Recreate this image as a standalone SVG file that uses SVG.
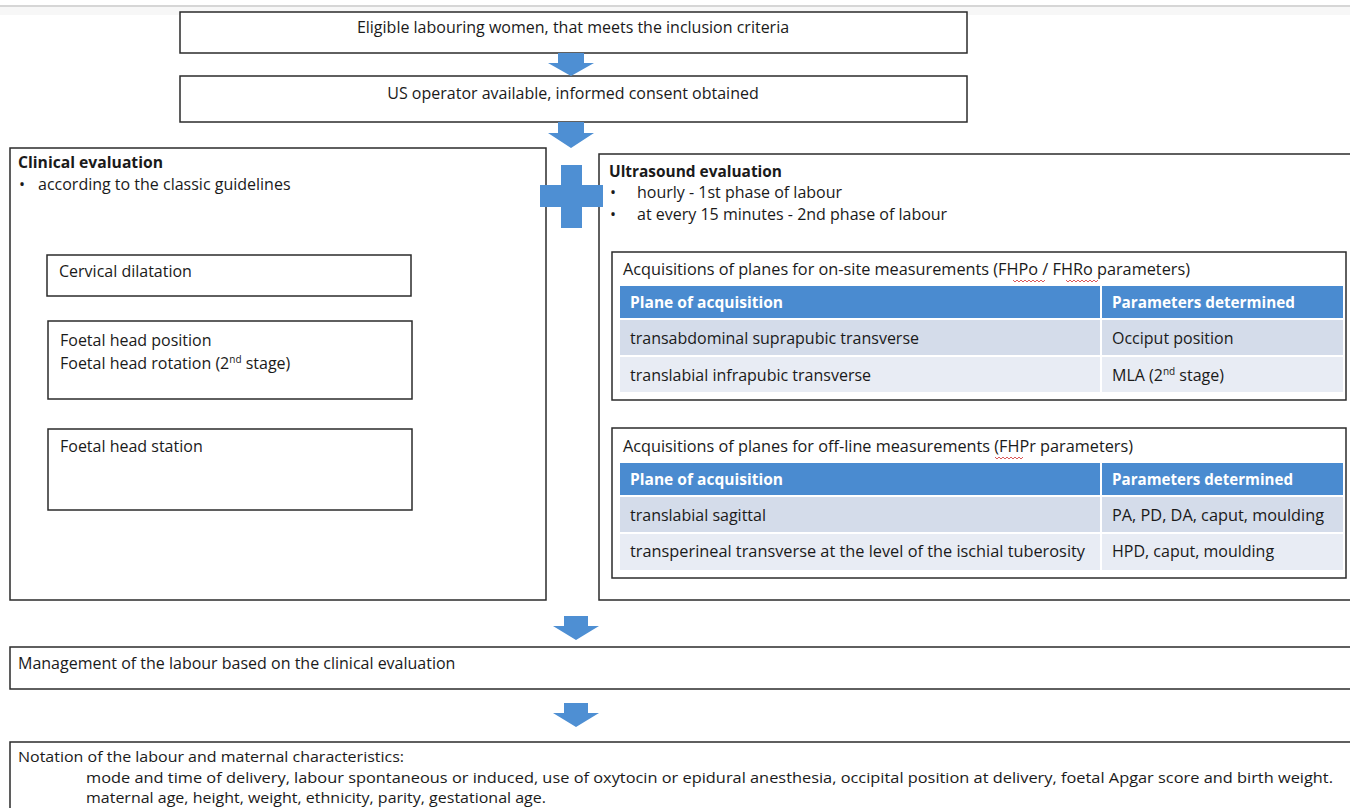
<svg xmlns="http://www.w3.org/2000/svg" width="1350" height="808" viewBox="0 0 1350 808">
<defs>
<style>
.box{fill:#ffffff;stroke:#2b2b2b;stroke-width:1.5}
.t{font-family:"Open Sans","Liberation Sans",sans-serif;font-size:16px;fill:#1a1a1a}
.s{font-size:14.5px}
.b{font-weight:bold}
.h{font-family:"Open Sans","Liberation Sans",sans-serif;font-size:15.5px;font-weight:bold;fill:#ffffff}
.arrow{fill:#4e8fd3}
.hdr{fill:#4a8bd0}
.r1{fill:#d4dcea}
.r2{fill:#e8ecf4}
.sq{fill:none;stroke:#d03030;stroke-width:0.8}
</style>
</defs>
<rect x="0" y="0" width="1350" height="808" fill="#ffffff"/>
<line x1="0" y1="6" x2="1350" y2="6" stroke="#c8c8c8" stroke-width="1.5"/>
<rect x="0" y="7" width="1350" height="8" fill="#f7f7f7"/>

<g id="n-eligible">
<rect class="box" x="180" y="12" width="787" height="41"/>
<text class="t" x="573" y="33" text-anchor="middle">Eligible labouring women, that meets the inclusion criteria</text>
</g>

<g id="n-consent">
<rect class="box" x="180" y="76" width="787" height="46"/>
<text class="t" x="573" y="99" text-anchor="middle">US operator available, informed consent obtained</text>
</g>

<g id="n-clinical">
<rect class="box" x="10" y="148" width="536" height="452"/>
<text class="t b" x="18" y="168" textLength="145" lengthAdjust="spacingAndGlyphs">Clinical evaluation</text>
<text class="t" x="19" y="190">•</text>
<text class="t" x="38" y="190">according to the classic guidelines</text>
</g>

<g id="n-cervical">
<rect class="box" x="47" y="255" width="364" height="41"/>
<text class="t" x="59" y="277">Cervical dilatation</text>
</g>

<g id="n-position">
<rect class="box" x="48" y="321" width="364" height="78"/>
<text class="t" x="60" y="346">Foetal head position</text>
<text class="t" x="60" y="369">Foetal head rotation (2<tspan font-size="10" dy="-6">nd</tspan><tspan dy="6"> stage)</tspan></text>
</g>

<g id="n-station">
<rect class="box" x="48" y="429" width="364" height="81"/>
<text class="t" x="60" y="452">Foetal head station</text>
</g>

<g id="n-ultrasound">
<rect class="box" x="599" y="154" width="760" height="446"/>
<text class="t b" x="609" y="177" textLength="173" lengthAdjust="spacingAndGlyphs">Ultrasound evaluation</text>
<text class="t" x="610" y="198">•</text>
<text class="t" x="637" y="198">hourly  - 1st phase of labour</text>
<text class="t" x="610" y="220">•</text>
<text class="t" x="637" y="220">at every 15 minutes  - 2nd phase of labour</text>
</g>

<g id="n-onsite">
<rect class="box" x="612" y="252" width="734" height="148"/>
<text class="t" x="623" y="275" textLength="567" lengthAdjust="spacingAndGlyphs">Acquisitions of planes for on-site measurements (FHPo / FHRo parameters)</text>
<path class="sq" d="M1013,280 l2,2 l2,-2 l2,2 l2,-2 l2,2 l2,-2 l2,2 l2,-2 l2,2 l2,-2 l2,2 l2,-2 l2,2 l2,-2 l2,2 l2,-2"/>
<path class="sq" d="M1066,280 l2,2 l2,-2 l2,2 l2,-2 l2,2 l2,-2 l2,2 l2,-2 l2,2 l2,-2 l2,2 l2,-2 l2,2 l2,-2 l2,2 l2,-2"/>
<rect class="hdr" x="620" y="286" width="723" height="32"/>
<line x1="1101" y1="286" x2="1101" y2="392" stroke="#ffffff" stroke-width="2"/>
<text class="h" x="630" y="308" textLength="153" lengthAdjust="spacingAndGlyphs">Plane of acquisition</text>
<text class="h" x="1112" y="308" textLength="183" lengthAdjust="spacingAndGlyphs">Parameters determined</text>
<rect class="r1" x="620" y="320" width="480" height="35"/>
<rect class="r1" x="1102" y="320" width="241" height="35"/>
<rect class="r2" x="620" y="357" width="480" height="35"/>
<rect class="r2" x="1102" y="357" width="241" height="35"/>
<text class="t" x="630" y="344">transabdominal suprapubic transverse</text>
<text class="t" x="1112" y="344">Occiput position</text>
<text class="t" x="630" y="381">translabial infrapubic transverse</text>
<text class="t" x="1112" y="381">MLA (2<tspan font-size="10" dy="-6">nd</tspan><tspan dy="6"> stage)</tspan></text>
</g>

<g id="n-offline">
<rect class="box" x="612" y="428" width="734" height="150"/>
<text class="t" x="623" y="452" textLength="510" lengthAdjust="spacingAndGlyphs">Acquisitions of planes for off-line measurements (FHPr parameters)</text>
<path class="sq" d="M995,457 l2,2 l2,-2 l2,2 l2,-2 l2,2 l2,-2 l2,2 l2,-2 l2,2 l2,-2 l2,2 l2,-2 l2,2 l2,-2"/>
<rect class="hdr" x="620" y="463" width="723" height="32"/>
<line x1="1101" y1="463" x2="1101" y2="570" stroke="#ffffff" stroke-width="2"/>
<text class="h" x="630" y="485" textLength="153" lengthAdjust="spacingAndGlyphs">Plane of acquisition</text>
<text class="h" x="1112" y="485" textLength="181" lengthAdjust="spacingAndGlyphs">Parameters determined</text>
<rect class="r1" x="620" y="497" width="480" height="35"/>
<rect class="r1" x="1102" y="497" width="241" height="35"/>
<rect class="r2" x="620" y="534" width="480" height="36"/>
<rect class="r2" x="1102" y="534" width="241" height="36"/>
<text class="t" x="630" y="521">translabial sagittal</text>
<text class="t" x="1112" y="521" textLength="212" lengthAdjust="spacingAndGlyphs">PA, PD, DA, caput, moulding</text>
<text class="t" x="630" y="557" textLength="455" lengthAdjust="spacingAndGlyphs">transperineal transverse at the level of the ischial tuberosity</text>
<text class="t" x="1112" y="557">HPD, caput, moulding</text>
</g>

<g id="n-management">
<rect class="box" x="10" y="647" width="1350" height="42"/>
<text class="t" x="18" y="669">Management of the labour based on the clinical evaluation</text>
</g>

<g id="n-notation">
<rect class="box" x="10" y="742" width="1350" height="80"/>
<text class="t s" x="18" y="762" textLength="386" lengthAdjust="spacingAndGlyphs">Notation of the labour and maternal characteristics:</text>
<text class="t s" x="86" y="783" textLength="1247" lengthAdjust="spacingAndGlyphs">mode and time of delivery, labour spontaneous or induced, use of oxytocin or epidural anesthesia, occipital position at delivery, foetal Apgar score and birth weight.</text>
<text class="t s" x="86" y="803" textLength="460" lengthAdjust="spacingAndGlyphs">maternal age, height, weight, ethnicity, parity, gestational age.</text>
</g>

<g id="connectors">
<polygon class="arrow" points="558,53 584,53 584,63 594,63 571,76 548,63 558,63"/>
<polygon class="arrow" points="558,122 584,122 584,133 594,133 571,148 548,133 558,133"/>
<polygon class="arrow" points="561,165 582,165 582,185 603,185 603,207 582,207 582,228 561,228 561,207 540,207 540,185 561,185"/>
<polygon class="arrow" points="564,616 588,616 588,626 599,626 576,640 553,626 564,626"/>
<polygon class="arrow" points="564,703 588,703 588,713 599,713 576,727 553,713 564,713"/>
</g>
</svg>
